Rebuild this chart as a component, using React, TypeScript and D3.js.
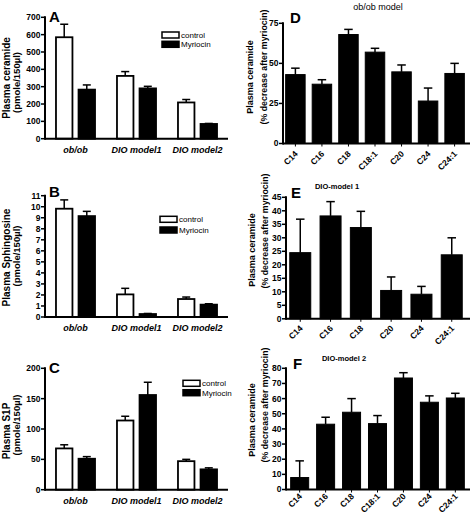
import React from "react";
import * as d3 from "d3";

const FONT = "'Liberation Sans', Arial, Helvetica, sans-serif";

// ---------- Data: panels A-C ----------
const groups = ["ob/ob", "DIO model1", "DIO model2"];
const seriesNames = ["control", "Myriocin"];

const ceramideControl = [585, 362, 209];
const ceramideControlErr = [75, 25, 17];
const ceramideMyriocin = [283, 290, 85];
const ceramideMyriocinErr = [27, 12, 3];
const ceramideTicks = [0, 100, 200, 300, 400, 500, 600, 700];

const sphingosineControl = [9.82, 2.05, 1.63];
const sphingosineControlErr = [0.8, 0.55, 0.18];
const sphingosineMyriocin = [9.15, 0.27, 1.12];
const sphingosineMyriocinErr = [0.43, 0.05, 0.08];
const sphingosineTicks = [0, 1, 2, 3, 4, 5, 6, 7, 8, 9, 10, 11];

const s1pControl = [68, 114, 47];
const s1pControlErr = [6, 7, 3];
const s1pMyriocin = [51, 156, 33.5];
const s1pMyriocinErr = [3.5, 21, 2.5];
const s1pTicks = [0, 50, 100, 150, 200];

// ---------- Data: panels D-F ----------
const chainsD = ["C14", "C16", "C18", "C18:1", "C20", "C24", "C24:1"];
const decreaseD = [43, 37, 68, 57, 44.7, 26.5, 43.7];
const decreaseDErr = [4, 2.8, 3.2, 2.4, 4.3, 8.1, 6.3];
const ticksD = [0, 25, 50, 75];

const chainsE = ["C14", "C16", "C18", "C20", "C24", "C24:1"];
const decreaseE = [24.5, 38.1, 33.8, 10.5, 9.1, 23.7];
const decreaseEErr = [12.4, 5.3, 6, 5, 2.9, 6.3];
const ticksE = [0, 5, 10, 15, 20, 25, 30, 35, 40, 45];

const chainsF = ["C14", "C16", "C18", "C18:1", "C20", "C24", "C24:1"];
const decreaseF = [7.9, 43.1, 51, 43.5, 73.6, 57.6, 60.4];
const decreaseFErr = [11, 4.6, 9, 5.3, 3.5, 4.2, 3.1];
const ticksF = [0, 10, 20, 30, 40, 50, 60, 70, 80];

type Label = { text: string; x: number; yc: number; size: number };

function YLabel({ l }: { l: Label }) {
  return (
    <text
      transform={`translate(${l.x},${l.yc}) rotate(-90)`}
      textAnchor="middle"
      fontFamily={FONT}
      fontWeight="bold"
      fontSize={l.size}
    >
      {l.text}
    </text>
  );
}

function YAxis({ y, axisX, ticks, fontSize }: any) {
  return (
    <g>
      {ticks.map((t: number) => (
        <g key={t}>
          <line x1={axisX - 4} x2={axisX} y1={y(t)} y2={y(t)} stroke="#000" strokeWidth={1.5} />
          <text
            x={axisX - 4.5}
            y={y(t)}
            dy="0.35em"
            textAnchor="end"
            fontFamily={FONT}
            fontWeight="bold"
            fontSize={fontSize}
          >
            {t}
          </text>
        </g>
      ))}
    </g>
  );
}

function ErrorBar({ x, yv, ye, cap }: any) {
  return (
    <g stroke="#000" strokeWidth={1.5}>
      <line x1={x} x2={x} y1={yv} y2={ye} />
      <line x1={x - cap / 2} x2={x + cap / 2} y1={ye} y2={ye} />
    </g>
  );
}

function GroupedPanel(p: any) {
  const y = d3.scaleLinear().domain([0, p.yMax]).range([p.y0, p.y1]);
  const gx = d3
    .scaleBand<string>()
    .domain(groups)
    .range([p.axisX, p.xEnd])
    .paddingInner(0.36)
    .paddingOuter(0.18);
  const sx = d3
    .scaleBand<string>()
    .domain(seriesNames)
    .range([0, gx.bandwidth()])
    .paddingInner(0.27);
  const vals = [p.ctl, p.myr];
  const errs = [p.ctlErr, p.myrErr];
  return (
    <g>
      {groups.map((g, gi) =>
        seriesNames.map((s, si) => {
          const v = vals[si][gi];
          const e = errs[si][gi];
          const x = (gx(g) as number) + (sx(s) as number);
          const w = sx.bandwidth();
          return (
            <g key={g + s}>
              <ErrorBar x={x + w / 2} yv={y(v)} ye={y(v + e)} cap={8} />
              <rect
                x={x}
                y={y(v)}
                width={w}
                height={y(0) - y(v)}
                fill={si === 0 ? "#fff" : "#000"}
                stroke="#000"
                strokeWidth={1.8}
              />
            </g>
          );
        })
      )}
      <line x1={p.axisX} x2={p.axisX} y1={y(p.yMax) - 1} y2={y(0) + 1} stroke="#000" strokeWidth={2} />
      <line x1={p.axisX} x2={p.xEnd} y1={y(0)} y2={y(0)} stroke="#000" strokeWidth={2} />
      <YAxis y={y} axisX={p.axisX} ticks={p.ticks} fontSize={8.5} />
      {groups.map((g) => (
        <text
          key={g}
          x={(gx(g) as number) + gx.bandwidth() / 2}
          y={y(0) + 14}
          textAnchor="middle"
          fontFamily={FONT}
          fontWeight="bold"
          fontStyle="italic"
          fontSize={9}
        >
          {g}
        </text>
      ))}
      {seriesNames.map((s, si) => (
        <g key={s}>
          <rect
            x={p.legX}
            y={p.legY + si * p.legGap - 3}
            width={17}
            height={6}
            fill={si === 0 ? "#fff" : "#000"}
            stroke="#000"
            strokeWidth={1.5}
          />
          <text
            x={p.legX + 19}
            y={p.legY + si * p.legGap}
            dy="0.35em"
            fontFamily={FONT}
            fontSize={8}
          >
            {s}
          </text>
        </g>
      ))}
      <text x={p.letterX} y={p.letterY} fontFamily={FONT} fontWeight="bold" fontSize={15}>
        {p.letter}
      </text>
      {p.labels.map((l: Label, i: number) => (
        <YLabel key={i} l={l} />
      ))}
    </g>
  );
}

function SimplePanel(p: any) {
  const y = d3.scaleLinear().domain([0, p.yMax]).range([p.y0, p.y1]);
  const x = d3
    .scaleBand<string>()
    .domain(p.cats)
    .range([p.axisX, p.bandEnd])
    .paddingInner(p.pad)
    .paddingOuter(p.padOuter);
  const w = x.bandwidth();
  return (
    <g>
      {p.cats.map((c: string, i: number) => {
        const v = p.vals[i];
        const e = p.errs[i];
        const bx = x(c) as number;
        return (
          <g key={c}>
            <ErrorBar x={bx + w / 2} yv={y(v)} ye={y(v + e)} cap={8.5} />
            <rect x={bx} y={y(v)} width={w} height={y(0) - y(v)} fill="#000" stroke="#000" strokeWidth={1} />
            <line x1={bx + w / 2} x2={bx + w / 2} y1={y(0)} y2={y(0) + 3} stroke="#000" strokeWidth={1} />
            <text
              transform={`translate(${bx + w / 2 + 3},${y(0) + p.labelDy}) rotate(-45)`}
              textAnchor="end"
              fontFamily={FONT}
              fontWeight="bold"
              fontSize={8.5}
            >
              {c}
            </text>
          </g>
        );
      })}
      <line x1={p.axisX} x2={p.axisX} y1={y(p.yMax) - 1} y2={y(0) + 1} stroke="#000" strokeWidth={2} />
      <line x1={p.axisX} x2={p.xEnd} y1={y(0)} y2={y(0)} stroke="#000" strokeWidth={2} />
      <YAxis y={y} axisX={p.axisX} ticks={p.ticks} fontSize={8.5} />
      <text x={p.letterX} y={p.letterY} fontFamily={FONT} fontWeight="bold" fontSize={15}>
        {p.letter}
      </text>
      <text
        x={p.titleX}
        y={p.titleY}
        textAnchor="middle"
        fontFamily={FONT}
        fontWeight={p.titleBold ? "bold" : "normal"}
        fontSize={p.titleSize}
      >
        {p.title}
      </text>
      {p.labels.map((l: Label, i: number) => (
        <YLabel key={i} l={l} />
      ))}
    </g>
  );
}

export default function App() {
  return (
    <svg
      width={471}
      height={515}
      style={{ position: "absolute", left: 0, top: 0, background: "#fff" }}
    >
      <rect width={471} height={515} fill="#fff" />
      <GroupedPanel
        axisX={45}
        xEnd={228}
        y0={138.7}
        y1={17.3}
        yMax={700}
        ticks={ceramideTicks}
        ctl={ceramideControl}
        ctlErr={ceramideControlErr}
        myr={ceramideMyriocin}
        myrErr={ceramideMyriocinErr}
        legX={162}
        legY={35}
        legGap={9.3}
        letter="A"
        letterX={49}
        letterY={22}
        labels={[
          { text: "Plasma ceramide", x: 9.5, yc: 78, size: 10 },
          { text: "(pmole/150µl)", x: 19.5, yc: 82.5, size: 9.5 },
        ]}
      />
      <GroupedPanel
        axisX={45}
        xEnd={228}
        y0={317}
        y1={195.7}
        yMax={11}
        ticks={sphingosineTicks}
        ctl={sphingosineControl}
        ctlErr={sphingosineControlErr}
        myr={sphingosineMyriocin}
        myrErr={sphingosineMyriocinErr}
        legX={160}
        legY={219.3}
        legGap={10.7}
        letter="B"
        letterX={49}
        letterY={196.5}
        labels={[
          { text: "Plasma Sphingosine", x: 9.5, yc: 257.5, size: 10 },
          { text: "(pmole/150µl)", x: 19.5, yc: 256, size: 9.5 },
        ]}
      />
      <GroupedPanel
        axisX={45}
        xEnd={228}
        y0={489.7}
        y1={368.3}
        yMax={200}
        ticks={s1pTicks}
        ctl={s1pControl}
        ctlErr={s1pControlErr}
        myr={s1pMyriocin}
        myrErr={s1pMyriocinErr}
        legX={183}
        legY={383.3}
        legGap={9.4}
        letter="C"
        letterX={49}
        letterY={373}
        labels={[
          { text: "Plasma S1P", x: 9.5, yc: 431, size: 10 },
          { text: "(pmole/150µl)", x: 19.5, yc: 425, size: 9.5 },
        ]}
      />
      <SimplePanel
        axisX={283}
        bandEnd={467}
        xEnd={470}
        pad={0.266}
        padOuter={0.1}
        y0={143.5}
        y1={23.3}
        yMax={75}
        ticks={ticksD}
        cats={chainsD}
        vals={decreaseD}
        errs={decreaseDErr}
        labelDy={11}
        letter="D"
        letterX={290}
        letterY={23}
        title="ob/ob model"
        titleX={378}
        titleY={9.5}
        titleSize={9}
        titleBold={false}
        labels={[
          { text: "Plasma ceramide", x: 253, yc: 77, size: 9 },
          { text: "(% decrease after myriocin)", x: 267, yc: 67, size: 8.8 },
        ]}
      />
      <SimplePanel
        axisX={286}
        bandEnd={466}
        xEnd={470}
        pad={0.307}
        padOuter={0.124}
        y0={318.8}
        y1={197.3}
        yMax={45}
        ticks={ticksE}
        cats={chainsE}
        vals={decreaseE}
        errs={decreaseEErr}
        labelDy={10}
        letter="E"
        letterX={291}
        letterY={198}
        title="DIO-model 1"
        titleX={337}
        titleY={188.5}
        titleSize={7.5}
        titleBold={true}
        labels={[
          { text: "Plasma ceramide", x: 254.5, yc: 250, size: 9 },
          { text: "(% decrease after myriocin)", x: 268, yc: 231, size: 8.8 },
        ]}
      />
      <SimplePanel
        axisX={286}
        bandEnd={469}
        xEnd={470}
        pad={0.306}
        padOuter={0.18}
        y0={489.5}
        y1={368.3}
        yMax={80}
        ticks={ticksF}
        cats={chainsF}
        vals={decreaseF}
        errs={decreaseFErr}
        labelDy={7.5}
        letter="F"
        letterX={293}
        letterY={368.5}
        title="DIO-model 2"
        titleX={344}
        titleY={361}
        titleSize={7.5}
        titleBold={true}
        labels={[
          { text: "Plasma ceramide", x: 254.5, yc: 420, size: 9 },
          { text: "(% decrease after myriocin)", x: 268, yc: 405, size: 8.8 },
        ]}
      />
    </svg>
  );
}
